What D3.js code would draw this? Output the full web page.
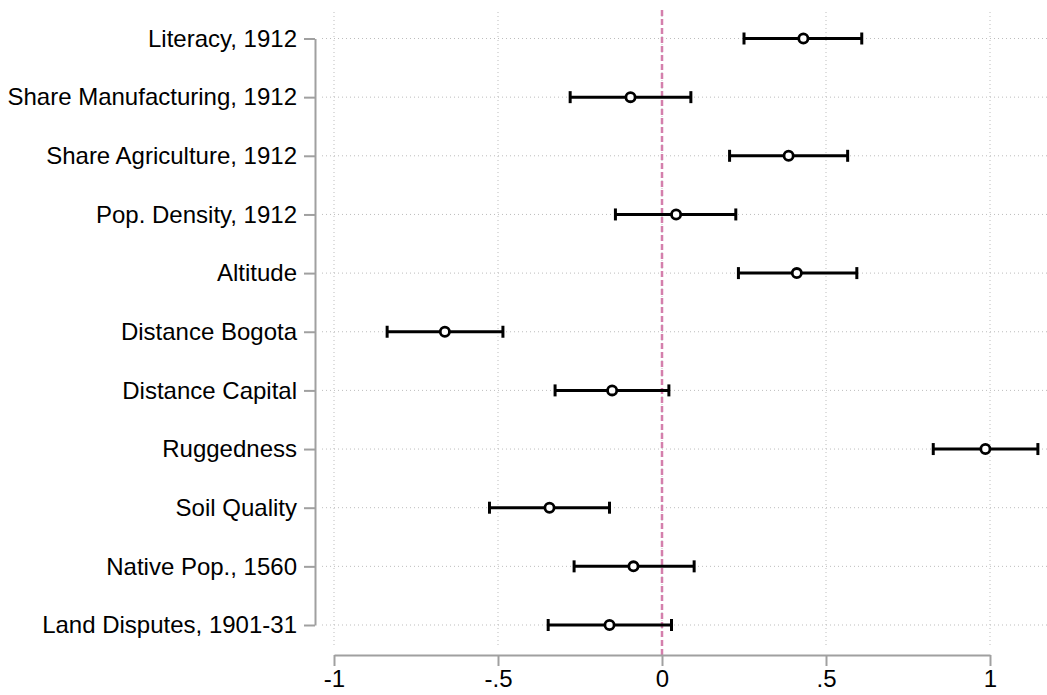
<!DOCTYPE html>
<html>
<head>
<meta charset="utf-8">
<script src="https://cdn.jsdelivr.net/npm/d3@7"></script>
<style>
  body { margin: 0; background: #fff; }
  #chart svg { display: block; }
</style>
</head>
<body>
<div id="chart"></div>
<script>
const categories = [
  "Literacy, 1912",
  "Share Manufacturing, 1912",
  "Share Agriculture, 1912",
  "Pop. Density, 1912",
  "Altitude",
  "Distance Bogota",
  "Distance Capital",
  "Ruggedness",
  "Soil Quality",
  "Native Pop., 1560",
  "Land Disputes, 1901-31"
];
const estimates = [0.431, -0.096, 0.386, 0.043, 0.411, -0.662, -0.152, 0.986, -0.343, -0.087, -0.160];
const ciLow = [0.250, -0.280, 0.206, -0.142, 0.233, -0.838, -0.326, 0.827, -0.526, -0.268, -0.347];
const ciHigh = [0.609, 0.088, 0.566, 0.225, 0.594, -0.485, 0.021, 1.146, -0.160, 0.098, 0.029];
const xTicks = [-1, -0.5, 0, 0.5, 1];
const xTickLabels = ["-1", "-.5", "0", ".5", "1"];

const rows = categories.map((c, i) => ({
  name: c, est: estimates[i], lo: ciLow[i], hi: ciHigh[i]
}));

const W = 1047, H = 695;
const plot = { left: 322, right: 1047, top: 12, bottom: 648 };
const font = "'Liberation Sans', Arial, sans-serif";
const axisGrey = "#a0a0a0";
const gridGrey = "#bdbdbd";

const svg = d3.select("#chart").append("svg")
  .attr("width", W)
  .attr("height", H);

const x = d3.scaleLinear().domain([-1, 1]).range([334, 990]);
const y = d3.scalePoint().domain(categories).range([38.5, 625]);

// Grid
svg.append("g")
  .selectAll("line")
  .data(categories)
  .join("line")
  .attr("x1", plot.left)
  .attr("x2", plot.right)
  .attr("y1", (d) => y(d))
  .attr("y2", (d) => y(d))
  .attr("stroke", gridGrey)
  .attr("stroke-width", 1)
  .attr("stroke-dasharray", "1,3");

svg.append("g")
  .selectAll("line")
  .data(xTicks)
  .join("line")
  .attr("x1", (d) => x(d))
  .attr("x2", (d) => x(d))
  .attr("y1", plot.top)
  .attr("y2", plot.bottom)
  .attr("stroke", gridGrey)
  .attr("stroke-width", 1)
  .attr("stroke-dasharray", "1,3");

// Zero reference line
svg.append("line")
  .attr("x1", x(0))
  .attr("x2", x(0))
  .attr("y1", 10)
  .attr("y2", 655)
  .attr("stroke", "#d47fac")
  .attr("stroke-width", 2.5)
  .attr("stroke-dasharray", "6,3");

// Y axis
svg.append("g")
  .attr("transform", "translate(315,0)")
  .call(d3.axisLeft(y).tickSize(11).tickSizeOuter(0).tickPadding(7))
  .call((g) => g.select(".domain").attr("stroke", axisGrey).attr("stroke-width", 2))
  .call((g) => g.selectAll(".tick line").attr("stroke", axisGrey).attr("stroke-width", 2))
  .selectAll("text")
  .attr("fill", "#000")
  .attr("font-family", font)
  .attr("font-size", "24px");

// X axis
svg.append("g")
  .attr("transform", "translate(0,655)")
  .call(d3.axisBottom(x).tickValues(xTicks).tickSize(11).tickSizeOuter(0).tickPadding(4)
    .tickFormat((d, i) => xTickLabels[i]))
  .call((g) => g.select(".domain").attr("stroke", axisGrey).attr("stroke-width", 2))
  .call((g) => g.selectAll(".tick line").attr("stroke", axisGrey).attr("stroke-width", 2))
  .selectAll("text")
  .attr("fill", "#000")
  .attr("font-family", font)
  .attr("font-size", "24px");

// Confidence intervals
const ci = svg.append("g");
ci.selectAll(".ci")
  .data(rows)
  .join("line")
  .attr("class", "ci")
  .attr("x1", (d) => x(d.lo))
  .attr("x2", (d) => x(d.hi))
  .attr("y1", (d) => y(d.name))
  .attr("y2", (d) => y(d.name))
  .attr("stroke", "#000")
  .attr("stroke-width", 3);

["lo", "hi"].forEach((k) => {
  ci.selectAll(".cap-" + k)
    .data(rows)
    .join("line")
    .attr("class", "cap-" + k)
    .attr("x1", (d) => x(d[k]))
    .attr("x2", (d) => x(d[k]))
    .attr("y1", (d) => y(d.name) - 6)
    .attr("y2", (d) => y(d.name) + 6)
    .attr("stroke", "#000")
    .attr("stroke-width", 3);
});

// Point estimates
svg.selectAll(".pt")
  .data(rows)
  .join("circle")
  .attr("class", "pt")
  .attr("cx", (d) => x(d.est))
  .attr("cy", (d) => y(d.name))
  .attr("r", 4.6)
  .attr("fill", "#fff")
  .attr("stroke", "#000")
  .attr("stroke-width", 2.8);
</script>
</body>
</html>
